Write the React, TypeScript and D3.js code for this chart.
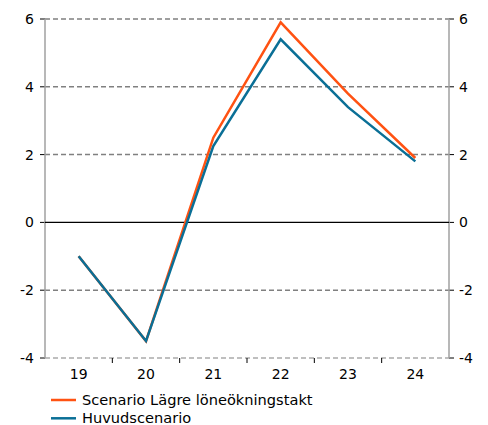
import React from "react";
import * as d3 from "d3";

const years = ["19", "20", "21", "22", "23", "24"];
const scenarioLow = [-1.0, -3.5, 2.5, 5.9, 3.8, 1.9];
const mainScenario = [-1.0, -3.5, 2.25, 5.4, 3.4, 1.8];
const yTicks = [-4, -2, 0, 2, 4, 6];
const seriesNames = ["Scenario Lägre löneökningstakt", "Huvudscenario"];
const seriesColors = ["#FF5212", "#0A6F96"];

const W = 488;
const H = 425;
const left = 45;
const right = 449;
const top = 19;
const bottom = 358;
const font = "'DejaVu Sans', Verdana, sans-serif";

export default function App() {
  const x = d3.scaleBand<string>().domain(years).range([left, right]);
  const y = d3.scaleLinear().domain([-4, 6]).range([bottom, top]);
  const line = d3
    .line<number>()
    .x((_, i) => (x(years[i]) as number) + x.bandwidth() / 2)
    .y((d) => y(d));
  const series = [scenarioLow, mainScenario];

  return (
    <svg
      width={W}
      height={H}
      style={{ position: "absolute", left: 0, top: 0 }}
      fontFamily={font}
    >
      {yTicks.map((t) => (
        <g key={t}>
          {t !== 0 && (
            <line
              x1={left}
              x2={right}
              y1={y(t)}
              y2={y(t)}
              stroke={t === -4 ? "#aaaaaa" : "#808080"}
              strokeWidth={1.5}
              strokeDasharray="5,3"
            />
          )}
          <line x1={left - 5} x2={left} y1={y(t)} y2={y(t)} stroke="#000" />
          <line x1={right} x2={right + 5} y1={y(t)} y2={y(t)} stroke="#000" />
          <text
            x={left - 11}
            y={y(t)}
            dy="0.35em"
            textAnchor="end"
            fontSize={14}
            fill="#000"
          >
            {t}
          </text>
          <text
            x={right + 10}
            y={y(t)}
            dy="0.35em"
            textAnchor="start"
            fontSize={14}
            fill="#000"
          >
            {t}
          </text>
        </g>
      ))}
      <line x1={left} x2={left} y1={top} y2={bottom} stroke="#a0a0a0" strokeWidth={1.5} />
      <line x1={right} x2={right} y1={top} y2={bottom} stroke="#a0a0a0" strokeWidth={1.5} />
      <line x1={left} x2={right} y1={y(0)} y2={y(0)} stroke="#000" strokeWidth={1.2} />
      {years.slice(1).map((yr) => (
        <line
          key={yr}
          x1={x(yr) as number}
          x2={x(yr) as number}
          y1={bottom}
          y2={bottom + 5}
          stroke="#000"
        />
      ))}
      {years.map((yr) => (
        <text
          key={yr}
          x={(x(yr) as number) + x.bandwidth() / 2}
          y={bottom + 21}
          textAnchor="middle"
          fontSize={14}
          fill="#000"
        >
          {yr}
        </text>
      ))}
      {series.map((s, i) => (
        <path
          key={i}
          d={line(s) as string}
          fill="none"
          stroke={seriesColors[i]}
          strokeWidth={2.5}
          strokeLinejoin="miter"
        />
      ))}
      {seriesNames.map((n, i) => (
        <g key={n}>
          <line
            x1={51}
            x2={76}
            y1={400 + i * 18.3}
            y2={400 + i * 18.3}
            stroke={seriesColors[i]}
            strokeWidth={2.5}
          />
          <text x={82} y={400 + i * 18.3} dy="0.35em" fontSize={14.6} fill="#000">
            {n}
          </text>
        </g>
      ))}
    </svg>
  );
}
